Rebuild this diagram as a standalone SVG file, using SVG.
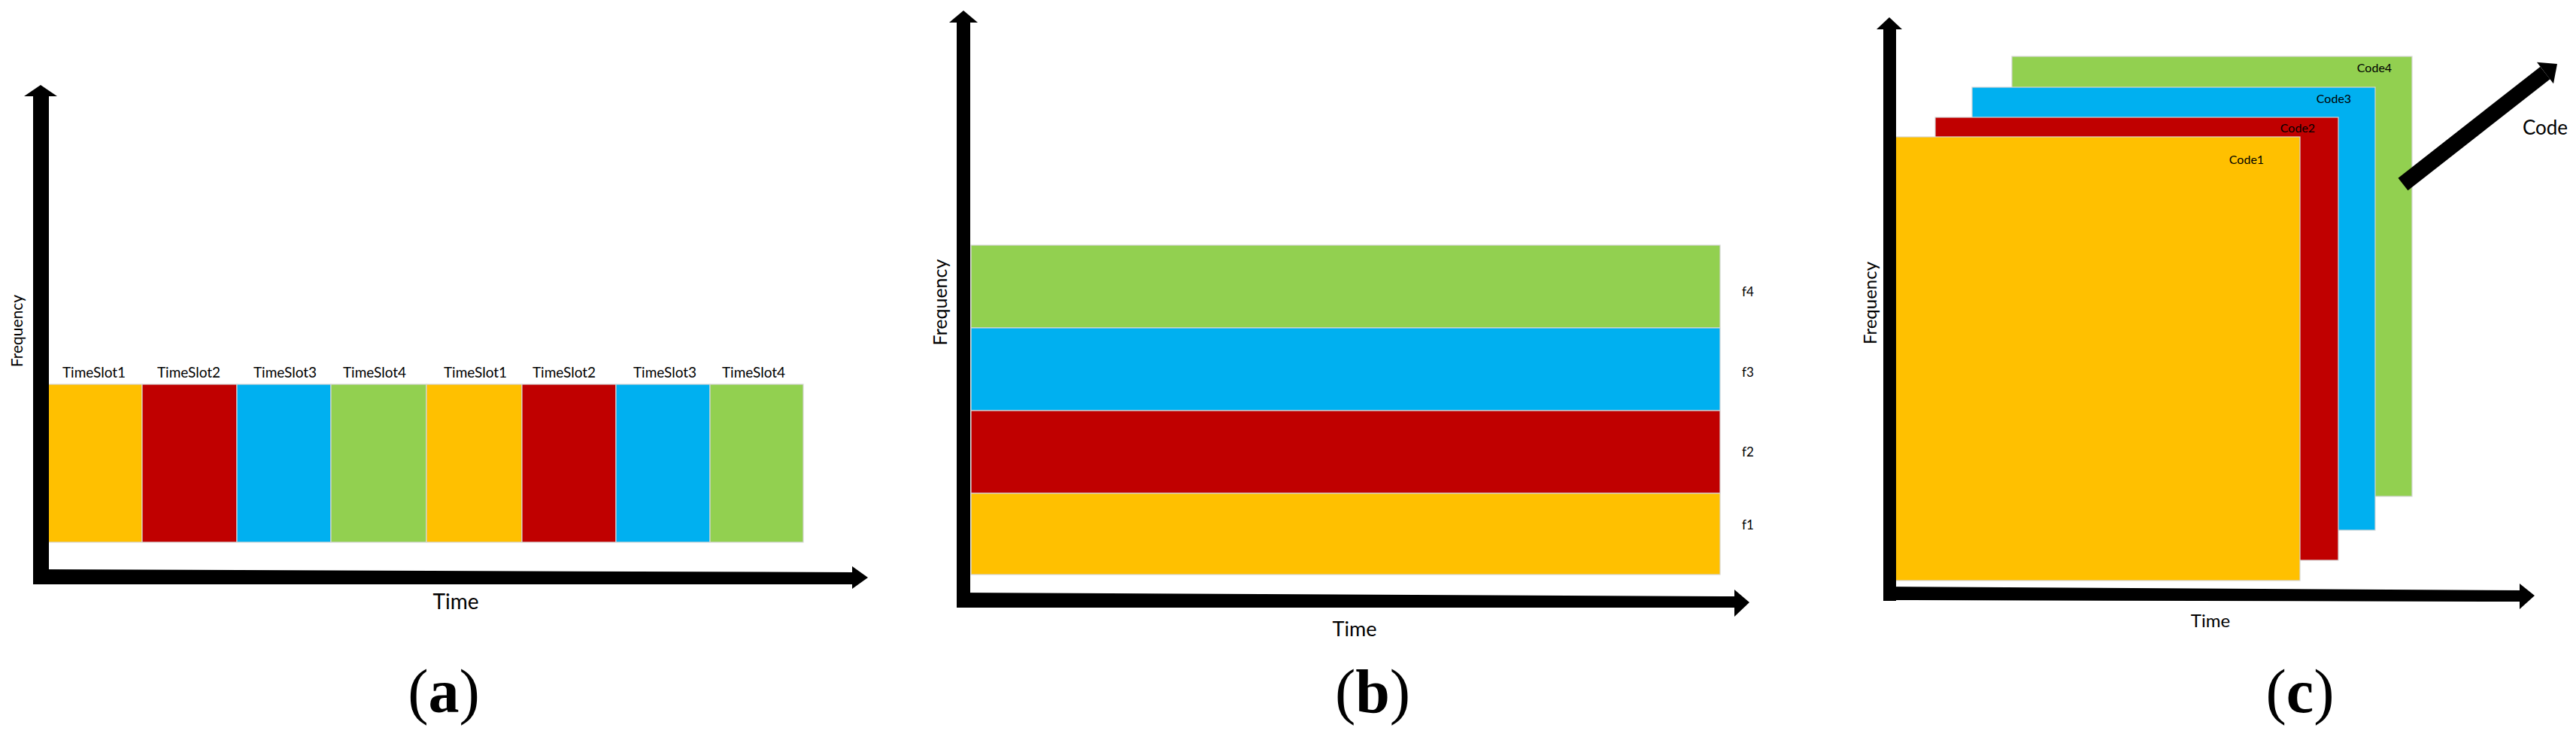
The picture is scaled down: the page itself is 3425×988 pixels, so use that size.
<svg xmlns="http://www.w3.org/2000/svg" width="3425" height="988" viewBox="0 0 3425 988">
<style>
.o{fill:#FFC000}.r{fill:#C00000}.b{fill:#00B0F0}.g{fill:#92D050}
.blk rect{stroke:#d6d6d6;stroke-width:1.2}
.ax{fill:#000}
.lbl{font-family:Lato,"Open Sans",sans-serif;fill:#000}
.cap{font-family:"Liberation Serif",serif;font-size:82px;fill:#000;text-anchor:middle}
</style>
<rect width="3425" height="988" fill="#fff"/>

<!-- Panel (a) -->
<g id="panel-a">
  <g id="a-slots" class="blk">
    <rect class="o" x="63" y="511" width="126" height="210"/>
    <rect class="r" x="189" y="511" width="126" height="210"/>
    <rect class="b" x="315" y="511" width="125" height="210"/>
    <rect class="g" x="440" y="511" width="127" height="210"/>
    <rect class="o" x="567" y="511" width="127" height="210"/>
    <rect class="r" x="694" y="511" width="125" height="210"/>
    <rect class="b" x="819" y="511" width="125" height="210"/>
    <rect class="g" x="944" y="511" width="124" height="210"/>
  </g>
  <g class="lbl" font-size="19" text-anchor="middle">
    <text x="125" y="502">TimeSlot1</text>
    <text x="251" y="502">TimeSlot2</text>
    <text x="379" y="502">TimeSlot3</text>
    <text x="498" y="502">TimeSlot4</text>
    <text x="632" y="502">TimeSlot1</text>
    <text x="750" y="502">TimeSlot2</text>
    <text x="884" y="502">TimeSlot3</text>
    <text x="1002" y="502">TimeSlot4</text>
  </g>
  <text class="lbl" font-size="21" text-anchor="middle" transform="translate(30,440) rotate(-90)">Frequency</text>
  <text class="lbl" font-size="28" text-anchor="middle" x="606" y="810">Time</text>
</g>

<!-- Panel (b) -->
<g id="panel-b">
  <g id="b-bands" class="blk">
    <rect class="g" x="1291" y="326" width="996" height="110"/>
    <rect class="b" x="1291" y="436" width="996" height="110"/>
    <rect class="r" x="1291" y="546" width="996" height="110"/>
    <rect class="o" x="1291" y="656" width="996" height="108"/>
  </g>
  <g class="lbl" font-size="17" text-anchor="middle">
    <text x="2324" y="394">f4</text>
    <text x="2324" y="501">f3</text>
    <text x="2324" y="607">f2</text>
    <text x="2324" y="704">f1</text>
  </g>
  <text class="lbl" font-size="25" text-anchor="middle" transform="translate(1259,402) rotate(-90)">Frequency</text>
  <text class="lbl" font-size="27" text-anchor="middle" x="1801" y="846">Time</text>
</g>

<!-- Panel (c) -->
<g id="panel-c">
  <g id="c-codes" class="blk">
    <rect class="g" x="2675" y="75" width="532" height="585"/>
    <rect class="b" x="2622" y="116" width="536" height="589"/>
    <rect class="r" x="2573" y="156" width="536" height="589"/>
    <rect class="o" x="2519" y="182" width="539" height="590"/>
  </g>
  <g class="lbl" font-size="16" text-anchor="middle">
    <text x="3157" y="96">Code4</text>
    <text x="3103" y="137">Code3</text>
    <text x="3055" y="176">Code2</text>
    <text x="2987" y="218">Code1</text>
  </g>
  <text class="lbl" font-size="24" text-anchor="middle" transform="translate(2495,403) rotate(-90)">Frequency</text>
  <text class="lbl" font-size="24" text-anchor="middle" x="2939" y="834">Time</text>
  <text class="lbl" font-size="26" text-anchor="middle" x="3384" y="179">Code</text>
</g>

<!-- Axes / connectors -->
<g id="connectors">
  <!-- (a) -->
  <rect class="ax" x="44" y="126" width="21" height="651"/>
  <polygon class="ax" points="32,128 54,113 76,128"/>
  <polygon class="ax" points="44,757 1134,761 1134,777 44,777"/>
  <polygon class="ax" points="1133,753 1154,768 1133,783"/>
  <!-- (b) -->
  <rect class="ax" x="1272" y="28" width="18" height="780"/>
  <polygon class="ax" points="1262,30 1281,14 1300,30"/>
  <polygon class="ax" points="1272,788 2307,793 2307,808 1272,808"/>
  <polygon class="ax" points="2306,784 2326,801 2306,820"/>
  <!-- (c) -->
  <rect class="ax" x="2504" y="37" width="17" height="762"/>
  <polygon class="ax" points="2495,39 2512,23 2529,39"/>
  <polygon class="ax" points="2504,780 3352,785 3352,800 2504,798"/>
  <polygon class="ax" points="3350,776 3370,792 3350,810"/>
  <!-- code axis -->
  <polygon class="ax" points="3188.5,236.7 3377.5,88.7 3390.5,105.3 3201.5,253.3"/>
  <polygon class="ax" points="3373,82.8 3400,85 3395,111.2"/>
</g>

<!-- Captions -->
<g id="captions">
  <text class="cap" x="590" y="947">(<tspan font-weight="bold">a</tspan>)</text>
  <text class="cap" x="1825" y="947">(<tspan font-weight="bold">b</tspan>)</text>
  <text class="cap" x="3058" y="947">(<tspan font-weight="bold">c</tspan>)</text>
</g>
</svg>
